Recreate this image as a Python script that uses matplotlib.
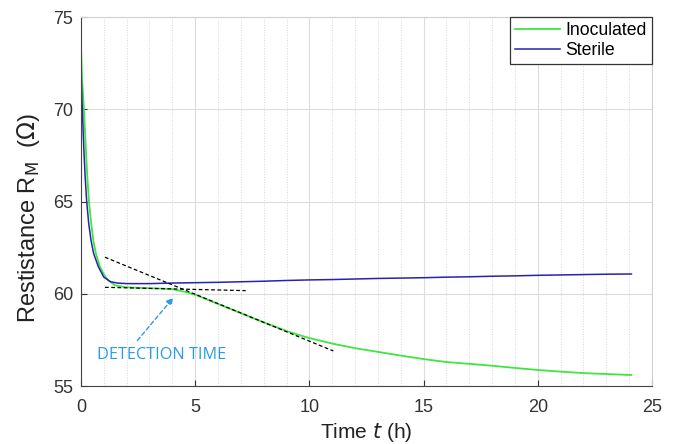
import numpy as np
import matplotlib
matplotlib.use("Agg")
import matplotlib.pyplot as plt
from matplotlib.ticker import MultipleLocator

plt.rcParams['font.family'] = ['Liberation Sans', 'DejaVu Sans']

# values
t_inoc = [0, 0.05, 0.13, 0.2, 0.27, 0.35, 0.45, 0.54, 0.65, 0.83, 1.0, 1.18, 1.5, 2, 2.5, 3, 3.5, 4,
          4.5, 5, 5.5, 6, 6.5, 7, 7.5, 8, 8.5, 9, 9.5, 10, 11, 12, 13, 14, 15, 16, 17, 18, 19,
          20, 21, 22, 23, 24, 24.1]
r_inoc = [73.4, 71.6, 70.0, 68.2, 66.5, 65.0, 63.8, 62.9, 62.2, 61.47, 61.05, 60.74, 60.45, 60.35,
          60.32, 60.3, 60.28, 60.25, 60.12, 59.95, 59.7, 59.45, 59.2, 58.95, 58.7, 58.45, 58.22,
          57.98, 57.78, 57.6, 57.3, 57.05, 56.85, 56.65, 56.46, 56.3, 56.2, 56.1, 55.98, 55.87,
          55.78, 55.7, 55.65, 55.6, 55.6]

t_ster = [0, 0.03, 0.06, 0.12, 0.18, 0.25, 0.34, 0.44, 0.55, 0.76, 1.0, 1.3, 1.6, 2, 3, 4, 5, 6,
          7, 8, 9, 10, 11, 12, 13, 14, 15, 16, 17, 18, 19, 20, 21, 22, 23, 24, 24.1]
r_ster = [72.2, 71.0, 70.0, 68.0, 66.4, 65.0, 63.8, 62.9, 62.2, 61.47, 60.9, 60.65, 60.58, 60.55,
          60.55, 60.58, 60.6, 60.62, 60.65, 60.68, 60.72, 60.75, 60.77, 60.8, 60.83, 60.85, 60.87,
          60.9, 60.92, 60.95, 60.97, 61.0, 61.02, 61.04, 61.06, 61.07, 61.07]

# tangent lines used to mark the detection time
tan_slope_t = [1.05, 11.05]
tan_slope_r = [61.98, 56.9]
tan_flat_t = [1.05, 7.21]
tan_flat_r = [60.35, 60.17]

fig = plt.figure(figsize=(6.77, 4.44), dpi=100)
ax = fig.add_axes([0.1196, 0.1306, 0.8434, 0.8311])

ax.plot(t_inoc, r_inoc, color='#3ee63e', lw=1.3, label='Inoculated')
ax.plot(t_ster, r_ster, color='#2424b0', lw=1.1, label='Sterile')
ax.plot(tan_slope_t, tan_slope_r, color='black', ls=(0, (3, 2)), lw=0.9)
ax.plot(tan_flat_t, tan_flat_r, color='black', ls=(0, (3, 2)), lw=0.9)

ax.annotate('', xy=(4.12, 59.9), xytext=(2.39, 57.35),
            arrowprops=dict(arrowstyle='-|>', color='#2a9be6', lw=1.0, ls=(0, (3, 2)),
                            mutation_scale=10))
ax.text(0.72, 56.7, 'DETECTION TIME', color='#2a9be6', fontsize=11.7,
        family=['Open Sans', 'DejaVu Sans'], va='center', ha='left')

ax.set_xlim(0, 25)
ax.set_ylim(55, 75)
ax.xaxis.set_major_locator(MultipleLocator(5))
ax.yaxis.set_major_locator(MultipleLocator(5))
ax.xaxis.set_minor_locator(MultipleLocator(1))
ax.grid(which='major', color='#dcdcdc', lw=0.8, ls='-')
ax.grid(which='minor', axis='x', color='#d8d8d8', lw=0.7, ls=':')
ax.set_axisbelow(True)

ax.tick_params(which='major', direction='in', length=4, labelsize=13, colors='#333333',
               top=False, right=False)
ax.tick_params(axis='x', pad=9)
ax.tick_params(axis='y', pad=5.5)
ax.tick_params(which='minor', length=0)
for s in ['left', 'bottom']:
    ax.spines[s].set_color('#444444')
for s in ['top', 'right']:
    ax.spines[s].set_color('#d0d0d0')

ax.set_xlabel('Time $t$ (h)', fontsize=15, color='#222222', labelpad=4)
ax.set_ylabel('Restistance R$_\\mathrm{M}$  ($\\Omega$)', fontsize=17, color='#222222')
ax.yaxis.set_label_coords(-0.069, 0.455)

leg = ax.legend(loc='upper right', fontsize=12.7, fancybox=False, framealpha=1,
                edgecolor='#333333', borderaxespad=0.0, handlelength=2.55, handletextpad=0.3,
                borderpad=0.3, labelspacing=0.15)
leg.get_frame().set_linewidth(0.9)

fig.savefig('out.png', dpi=100)
